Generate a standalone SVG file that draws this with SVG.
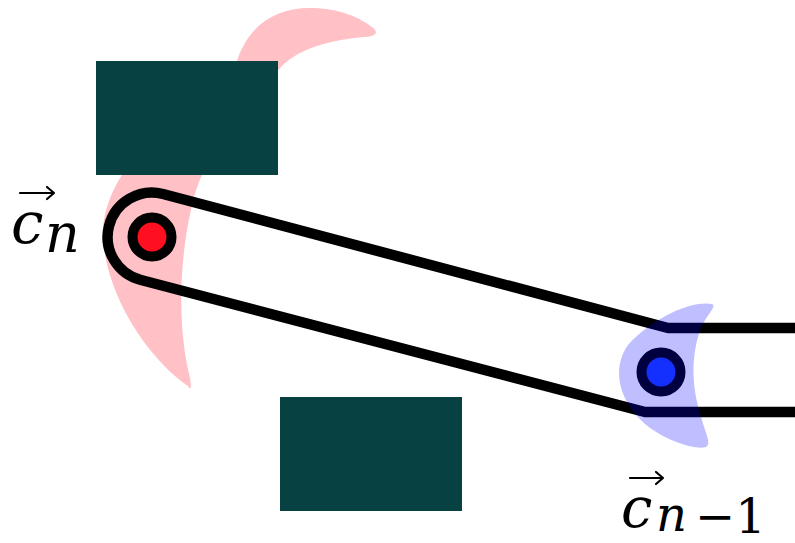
<svg xmlns="http://www.w3.org/2000/svg" width="795" height="543" viewBox="0 0 795 543">
<style>
.obst{fill:#084141}
.lbl{font-family:"DejaVu Serif","Liberation Serif",serif;fill:#000}
.it{font-style:italic}
.vec{stroke:#000;stroke-width:2.2;fill:none;stroke-linecap:round;stroke-linejoin:round}
</style>
<rect width="795" height="543" fill="#fff"/>
<g id="pink-region">
<path d="M 188 386 C 150 360 108 300 103 240 C 100 185 150 130 205 95 C 225 80 235 70 238 58 C 250 25 275 8 310 8 C 340 8 360 18 372 27 C 380 33 375 36 365 37 C 330 40 300 48 282 66 C 245 105 205 150 192 205 C 178 265 178 330 190 378 C 192 390 190 390 188 386 Z" fill="#ffc0c6"/>
</g>
<g id="obstacle-top"><rect class="obst" x="96" y="61" width="182" height="114"/></g>
<g id="obstacle-bottom"><rect class="obst" x="280" y="397" width="182" height="114"/></g>
<g id="connectors">
<path d="M 795 328 L 668 328 L 163 194 A 44 44 0 0 0 141 280 L 645 412 L 795 412" fill="none" stroke="#000" stroke-width="10.5" stroke-linejoin="round"/>
</g>
<g id="node-cn">
<circle cx="152" cy="237" r="19.5" fill="#ff1020" stroke="#000" stroke-width="10"/>
</g>
<g id="node-cn1">
<circle cx="661" cy="372" r="19.5" fill="#1a40ff" stroke="#000" stroke-width="10"/>
</g>
<g id="blue-region">
<path d="M 712 304 C 690 300 650 320 628 345 C 610 370 620 405 650 428 C 670 442 695 450 706 447 C 712 444 705 432 702 420 C 692 390 690 360 700 330 C 704 318 718 306 712 304 Z" fill="#0000ff" fill-opacity="0.25"/>
</g>
<g id="label-cn">
<text class="lbl it" x="11" y="243" font-size="58">c</text>
<text class="lbl it" x="45" y="252" font-size="54">n</text>
<path class="vec" d="M 20 193 L 54 193 M 47 187 L 54 193 L 47 199"/>
</g>
<g id="label-cn1">
<text class="lbl it" x="621" y="527" font-size="56">c</text>
<text class="lbl it" x="656" y="531" font-size="48">n</text>
<text class="lbl" x="695" y="533" font-size="48">−1</text>
<path class="vec" d="M 630 478 L 663 478 M 656 472 L 663 478 L 656 484"/>
</g>
</svg>
